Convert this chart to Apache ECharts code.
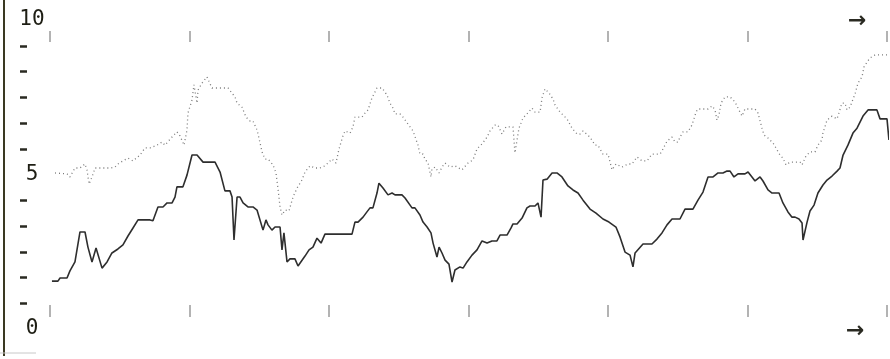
<!DOCTYPE html>
<html>
<head>
<meta charset="utf-8">
<script src="https://cdn.jsdelivr.net/npm/echarts@6/dist/echarts.min.js"></script>
<style>
  html, body { margin: 0; padding: 0; background: #fff; }
  #chart { width: 890px; height: 359px; }
</style>
</head>
<body>
<div id="chart"></div>
<script>
// lower trace (solid, dark)
var lowerX = [0.14, 0.57, 0.72, 1.22, 1.43, 1.79, 2.15, 2.51, 2.72, 3.01, 3.30, 3.73, 4.09, 4.44, 4.87, 5.23, 5.59, 5.95, 6.31, 7.17,
  7.38, 7.74, 8.10, 8.39, 8.75, 8.96, 9.10, 9.53, 9.82, 10.18, 10.54, 10.97, 11.83, 12.19, 12.54, 12.90, 13.05, 13.19, 13.41, 13.62,
  13.84, 14.19, 14.55, 14.84, 15.27, 15.48, 15.63, 15.91, 16.13, 16.49, 16.63, 16.77, 16.99, 17.20, 17.56, 17.78, 18.28, 18.57, 18.85, 19.14,
  19.43, 19.71, 21.65, 21.86, 22.08, 22.44, 22.72, 22.94, 23.15, 23.44, 23.58, 23.87, 24.01, 24.23, 24.52, 24.73, 25.23, 25.45, 25.95, 26.16,
  26.52, 26.74, 27.03, 27.31, 27.46, 27.74, 27.89, 28.10, 28.32, 28.60, 28.82, 29.03, 29.39, 29.61, 29.89, 30.25, 30.61, 30.97, 31.33, 31.68,
  32.04, 32.26, 32.76, 33.05, 33.19, 33.48, 33.84, 34.19, 34.41, 34.77, 34.98, 35.20, 35.34, 35.63, 35.99, 36.34, 36.70, 37.13, 37.49, 37.85,
  38.21, 38.71, 39.14, 39.64, 40.07, 40.57, 40.86, 41.22, 41.58, 41.79, 41.94, 42.08, 42.51, 43.15, 43.51, 43.87, 44.23, 44.59, 45.16, 45.52,
  46.09, 46.45, 46.81, 47.17, 47.53, 47.89, 48.24, 48.53, 48.75, 49.03, 49.32, 49.82, 50.04, 50.32, 50.54, 50.90, 51.11, 51.47, 51.76, 52.26,
  52.54, 52.90, 53.19, 53.41, 53.69, 53.91, 53.98, 54.27, 54.48, 54.77, 55.05, 55.41, 55.70, 56.06, 56.42, 56.63, 56.85, 57.20, 57.56, 57.85,
  58.28, 58.64, 59.28, 59.50, 60.00, 60.14];
var lowerY = [1.55, 1.55, 1.65, 1.65, 1.88, 2.17, 3.14, 3.14, 2.65, 2.17, 2.62, 1.97, 2.17, 2.46, 2.59, 2.72, 3.01, 3.27, 3.53, 3.53,
  3.50, 3.95, 3.95, 4.08, 4.08, 4.27, 4.60, 4.60, 4.98, 5.63, 5.63, 5.40, 5.40, 5.08, 4.47, 4.47, 4.27, 2.88, 4.27, 4.27,
  4.08, 3.95, 3.95, 3.85, 3.20, 3.53, 3.37, 3.20, 3.30, 3.30, 2.56, 3.11, 2.17, 2.27, 2.27, 2.04, 2.36, 2.56, 2.65, 2.94,
  2.78, 3.07, 3.07, 3.46, 3.46, 3.62, 3.79, 3.92, 3.92, 4.40, 4.72, 4.56, 4.53, 4.34, 4.40, 4.34, 4.34, 4.24, 3.92, 3.92,
  3.69, 3.46, 3.30, 3.11, 2.78, 2.33, 2.65, 2.46, 2.23, 2.10, 1.52, 1.91, 2.01, 1.97, 2.17, 2.39, 2.56, 2.85, 2.78, 2.85,
  2.85, 3.04, 3.04, 3.27, 3.40, 3.40, 3.59, 3.92, 3.98, 3.98, 4.08, 3.62, 4.82, 4.85, 5.05, 5.05, 4.92, 4.63, 4.50, 4.40,
  4.17, 3.88, 3.75, 3.56, 3.46, 3.30, 2.98, 2.49, 2.39, 2.01, 2.46, 2.49, 2.75, 2.75, 2.91, 3.11, 3.37, 3.56, 3.56, 3.88,
  3.88, 4.17, 4.43, 4.92, 4.92, 5.05, 5.05, 5.11, 5.11, 4.92, 5.02, 5.02, 5.08, 4.92, 4.79, 4.92, 4.79, 4.50, 4.40, 4.40,
  4.08, 3.79, 3.62, 3.62, 3.56, 3.43, 2.88, 3.46, 3.82, 4.01, 4.40, 4.66, 4.82, 4.95, 5.11, 5.21, 5.63, 5.95, 6.34, 6.50,
  6.89, 7.09, 7.09, 6.80, 6.80, 6.12];

// upper trace (dotted, light)
var upperX = [0.36, 1.22, 1.43, 1.79, 2.15, 2.51, 2.65, 2.80, 3.01, 3.23, 4.30, 4.66, 4.87, 5.23, 5.59, 5.95, 6.45, 6.81, 7.17, 7.67,
  8.03, 8.24, 8.82, 9.10, 9.32, 9.61, 9.82, 9.89, 10.18, 10.32, 10.54, 10.61, 10.90, 11.25, 11.61, 12.76, 13.26, 13.41, 13.76, 14.05,
  14.34, 14.55, 14.84, 14.98, 15.20, 15.41, 15.63, 15.99, 16.20, 16.34, 16.49, 16.63, 16.85, 17.13, 17.42, 17.71, 18.06, 18.28, 18.64, 19.00,
  19.35, 19.71, 20.22, 20.50, 20.72, 21.00, 21.15, 21.51, 21.72, 21.86, 22.37, 22.58, 22.80, 23.08, 23.44, 23.80, 24.16, 24.37, 24.59, 24.73,
  25.09, 25.30, 25.66, 26.02, 26.38, 26.52, 26.74, 26.88, 27.10, 27.31, 27.38, 27.60, 27.89, 28.10, 28.32, 28.67, 29.03, 29.53, 29.96, 30.32,
  30.61, 30.97, 31.33, 31.54, 31.90, 32.11, 32.40, 32.69, 33.19, 33.33, 33.48, 33.62, 33.91, 34.19, 34.55, 34.77, 35.13, 35.27, 35.48, 35.77,
  36.06, 36.20, 36.56, 37.06, 37.42, 37.78, 37.99, 38.21, 38.71, 39.07, 39.28, 39.64, 40.00, 40.29, 40.57, 41.00, 41.43, 41.72, 42.08, 42.44,
  42.80, 43.15, 43.73, 43.87, 44.23, 44.59, 44.80, 45.02, 45.16, 45.38, 45.73, 46.02, 46.16, 46.31, 46.45, 47.17, 47.46, 47.67, 47.81, 47.96,
  48.10, 48.39, 48.75, 49.10, 49.46, 49.61, 49.82, 50.54, 50.75, 51.04, 51.18, 51.47, 51.83, 52.04, 52.33, 52.54, 52.76, 53.05, 53.76, 53.91,
  54.19, 54.48, 54.84, 55.05, 55.34, 55.41, 55.70, 56.06, 56.42, 56.77, 56.99, 57.13, 57.35, 57.71, 57.92, 58.21, 58.35, 58.57, 58.78, 59.14,
  60.00, 60.14];
var upperY = [5.05, 5.02, 4.92, 5.21, 5.21, 5.34, 5.15, 4.69, 4.92, 5.21, 5.21, 5.24, 5.34, 5.44, 5.53, 5.44, 5.63, 5.86, 5.86, 5.95,
  6.05, 5.95, 6.25, 6.38, 6.25, 5.95, 6.44, 6.99, 7.41, 7.90, 7.31, 7.73, 7.96, 8.16, 7.80, 7.80, 7.51, 7.31, 7.18, 6.86,
  6.73, 6.73, 6.44, 6.18, 5.73, 5.50, 5.50, 5.31, 5.05, 4.56, 3.95, 3.69, 3.85, 3.82, 4.27, 4.56, 4.82, 5.08, 5.28, 5.21,
  5.21, 5.28, 5.50, 5.37, 5.83, 6.25, 6.41, 6.34, 6.54, 6.86, 6.86, 6.99, 7.09, 7.48, 7.80, 7.80, 7.57, 7.31, 7.15, 6.96,
  6.96, 6.86, 6.63, 6.41, 5.95, 5.66, 5.66, 5.50, 5.37, 4.92, 5.18, 5.24, 5.05, 5.24, 5.37, 5.24, 5.28, 5.15, 5.37, 5.47,
  5.83, 5.99, 6.21, 6.41, 6.60, 6.60, 6.31, 6.54, 6.54, 5.70, 6.12, 6.50, 6.83, 6.96, 7.15, 7.02, 7.02, 7.48, 7.77, 7.64,
  7.44, 7.25, 7.02, 6.80, 6.50, 6.31, 6.31, 6.41, 6.21, 5.95, 5.95, 5.66, 5.66, 5.15, 5.34, 5.24, 5.34, 5.34, 5.57, 5.44,
  5.44, 5.66, 5.66, 5.76, 6.08, 6.21, 6.05, 6.05, 6.21, 6.38, 6.38, 6.60, 6.80, 7.02, 7.12, 7.12, 7.22, 7.09, 6.76, 6.93,
  7.31, 7.51, 7.51, 7.35, 7.02, 6.89, 7.12, 7.12, 6.99, 6.50, 6.28, 6.18, 6.02, 5.86, 5.63, 5.53, 5.31, 5.40, 5.40, 5.31,
  5.60, 5.73, 5.73, 5.95, 6.12, 6.34, 6.76, 6.89, 6.80, 7.31, 7.31, 7.09, 7.18, 7.61, 7.96, 8.16, 8.48, 8.64, 8.77, 8.87,
  8.87, 8.80];

var yLabels = [0, 5, 10];
var yTickSlots = ['0', '', '', '', '', '', '5', '', '', '', '', '', '10'];

function zip(xs, ys) {
  return xs.map(function (x, i) { return [x, ys[i]]; });
}

var chart = echarts.init(document.getElementById('chart'));
var labelFont = "'DejaVu Sans Mono', monospace";

var option = {
  backgroundColor: '#ffffff',
  animation: false,
  grid: { left: 50, right: 3, top: 20, bottom: 30 },
  xAxis: [
    {
      type: 'value', position: 'bottom', min: 0, max: 60, interval: 10, offset: -12,
      axisLine: { show: false, onZero: false },
      axisTick: { show: true, inside: true, length: 12, lineStyle: { color: '#9a9a9a', width: 1.5 } },
      axisLabel: { show: false },
      splitLine: { show: false }
    },
    {
      type: 'value', position: 'top', min: 0, max: 60, interval: 10, offset: -11,
      axisLine: { show: false, onZero: false },
      axisTick: { show: true, inside: true, length: 11, lineStyle: { color: '#9a9a9a', width: 1.5 } },
      axisLabel: { show: false },
      splitLine: { show: false }
    }
  ],
  yAxis: [
    {
      type: 'value', min: 0, max: 10, interval: 5, position: 'left', offset: 46,
      axisLine: { show: false, onZero: false },
      axisTick: { show: false },
      splitLine: { show: false },
      axisLabel: {
        inside: true, margin: 28, align: 'center',
        color: '#1e1e14', fontSize: 21, fontFamily: labelFont,
        formatter: function (v) { return yLabels.indexOf(v) >= 0 ? String(v) : ''; }
      }
    },
    {
      type: 'category', data: yTickSlots, boundaryGap: false, position: 'left', offset: 23,
      axisLine: { show: false, onZero: false },
      axisTick: {
        show: true, length: 7,
        interval: function (index) { return index % 6 !== 0; },
        lineStyle: { color: '#2a2a22', width: 2.5 }
      },
      axisLabel: { show: false },
      splitLine: { show: false }
    }
  ],
  series: [
    {
      name: 'upper', type: 'line', xAxisIndex: 0, yAxisIndex: 0,
      data: zip(upperX, upperY), showSymbol: false, clip: false,
      lineStyle: { color: '#7a7a7a', width: 1.3, type: [1, 3] }
    },
    {
      name: 'lower', type: 'line', xAxisIndex: 0, yAxisIndex: 0,
      data: zip(lowerX, lowerY), showSymbol: false, clip: false,
      lineStyle: { color: '#2e2e2e', width: 1.6 }
    }
  ],
  graphic: [
    { type: 'line', shape: { x1: 4, y1: 0, x2: 4, y2: 356 }, style: { stroke: '#3a3922', lineWidth: 2 } },
    { type: 'line', shape: { x1: 0, y1: 353, x2: 36, y2: 353 }, style: { stroke: '#c8c8c8', lineWidth: 1 } },
    { type: 'text', left: 848, top: 10, style: { text: '→', fontSize: 22, fontWeight: 'bold', fill: '#2a2a22', fontFamily: 'DejaVu Sans' } },
    { type: 'text', left: 846, top: 320, style: { text: '→', fontSize: 22, fontWeight: 'bold', fill: '#2a2a22', fontFamily: 'DejaVu Sans' } }
  ]
};

chart.setOption(option);
</script>
</body>
</html>
